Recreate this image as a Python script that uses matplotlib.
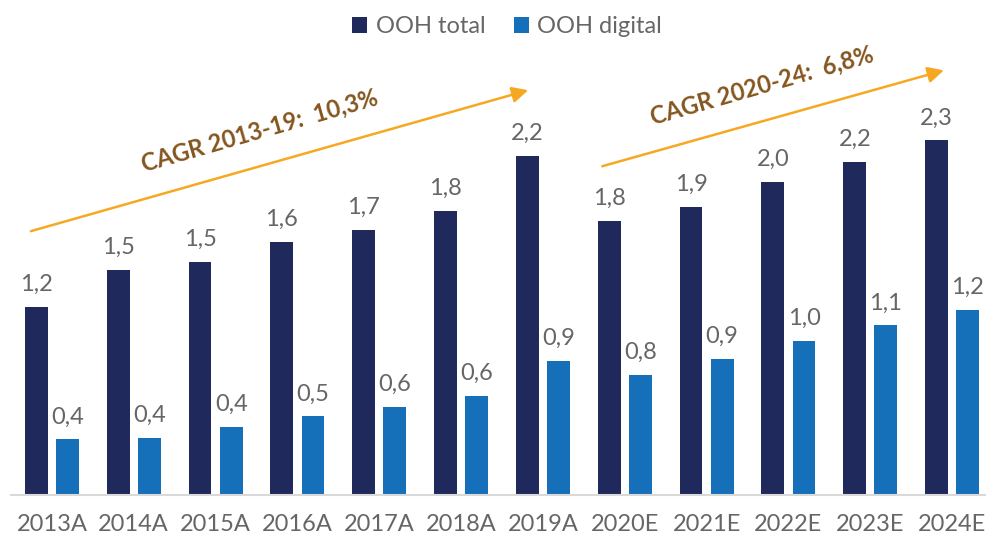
import matplotlib.pyplot as plt
import numpy as np

# values (bn)
years = ['2013A', '2014A', '2015A', '2016A', '2017A', '2018A',
         '2019A', '2020E', '2021E', '2022E', '2023E', '2024E']
ooh_total = [1.22, 1.46, 1.51, 1.64, 1.72, 1.84, 2.20, 1.78, 1.87, 2.03, 2.16, 2.30]
ooh_digital = [0.36, 0.37, 0.44, 0.51, 0.57, 0.64, 0.87, 0.78, 0.88, 1.00, 1.10, 1.20]
cagr_labels = ['CAGR 2013-19:  10,3%', 'CAGR 2020-24:  6,8%']

navy = '#1F295C'
blue = '#1570B9'
grey = '#666666'
orange = '#F7A823'
brown = '#85561F'

plt.rcParams['font.family'] = ['Lato', 'DejaVu Sans']

fig = plt.figure(figsize=(9.87, 5.39), dpi=100)
ax = fig.add_axes([11 / 987, 44 / 539, 982 / 987, 495 / 539])

x = np.arange(len(years))
w = 0.28
off = 0.19
b1 = ax.bar(x - off, ooh_total, w, color=navy, label='OOH total')
b2 = ax.bar(x + off, ooh_digital, w, color=blue, label='OOH digital')

# value labels with comma decimals
for bars, vals in [(b1, ooh_total), (b2, ooh_digital)]:
    for rect, v in zip(bars, vals):
        ax.annotate(f'{v:.1f}'.replace('.', ','),
                    (rect.get_x() + rect.get_width() / 2, v),
                    xytext=(0, 11.5), textcoords='offset points',
                    ha='center', va='baseline', fontsize=17, color=grey)

ax.set_xlim(-0.5, len(years) - 0.5)
ax.set_ylim(0, 3.21)
ax.set_xticks(x)
ax.set_xticklabels(years)
ax.tick_params(axis='x', length=0, pad=14, labelsize=17, labelcolor=grey)
ax.set_yticks([])
for s in ['top', 'right', 'left']:
    ax.spines[s].set_visible(False)
ax.spines['bottom'].set_color('#D9D9D9')
ax.spines['bottom'].set_linewidth(1.5)

# CAGR arrows and texts
arrows = [((-0.257, 1.711), (5.82, 2.625)), ((6.725, 2.132), (10.90, 2.754))]
for (x0, y0), (x1, y1) in arrows:
    ax.annotate('', xy=(x1, y1), xytext=(x0, y0),
                arrowprops=dict(arrowstyle='-|>', color=orange, lw=1.8,
                                mutation_scale=24, shrinkA=0, shrinkB=0))
text_pos = [(2.54, 2.36), (8.68, 2.657)]
for (tx, ty), label in zip(text_pos, cagr_labels):
    ax.text(tx, ty, label, rotation=16, rotation_mode='anchor',
            ha='center', va='center', fontsize=17, fontweight='bold', color=brown)

fig.legend(handles=[b1, b2], loc='center', bbox_to_anchor=(507 / 987, 0.95),
           ncol=2, frameon=False, fontsize=17, labelcolor=grey,
           handlelength=0.64, handleheight=0.64, handletextpad=0.35,
           columnspacing=1.2)

fig.savefig('out.png', dpi=100)
